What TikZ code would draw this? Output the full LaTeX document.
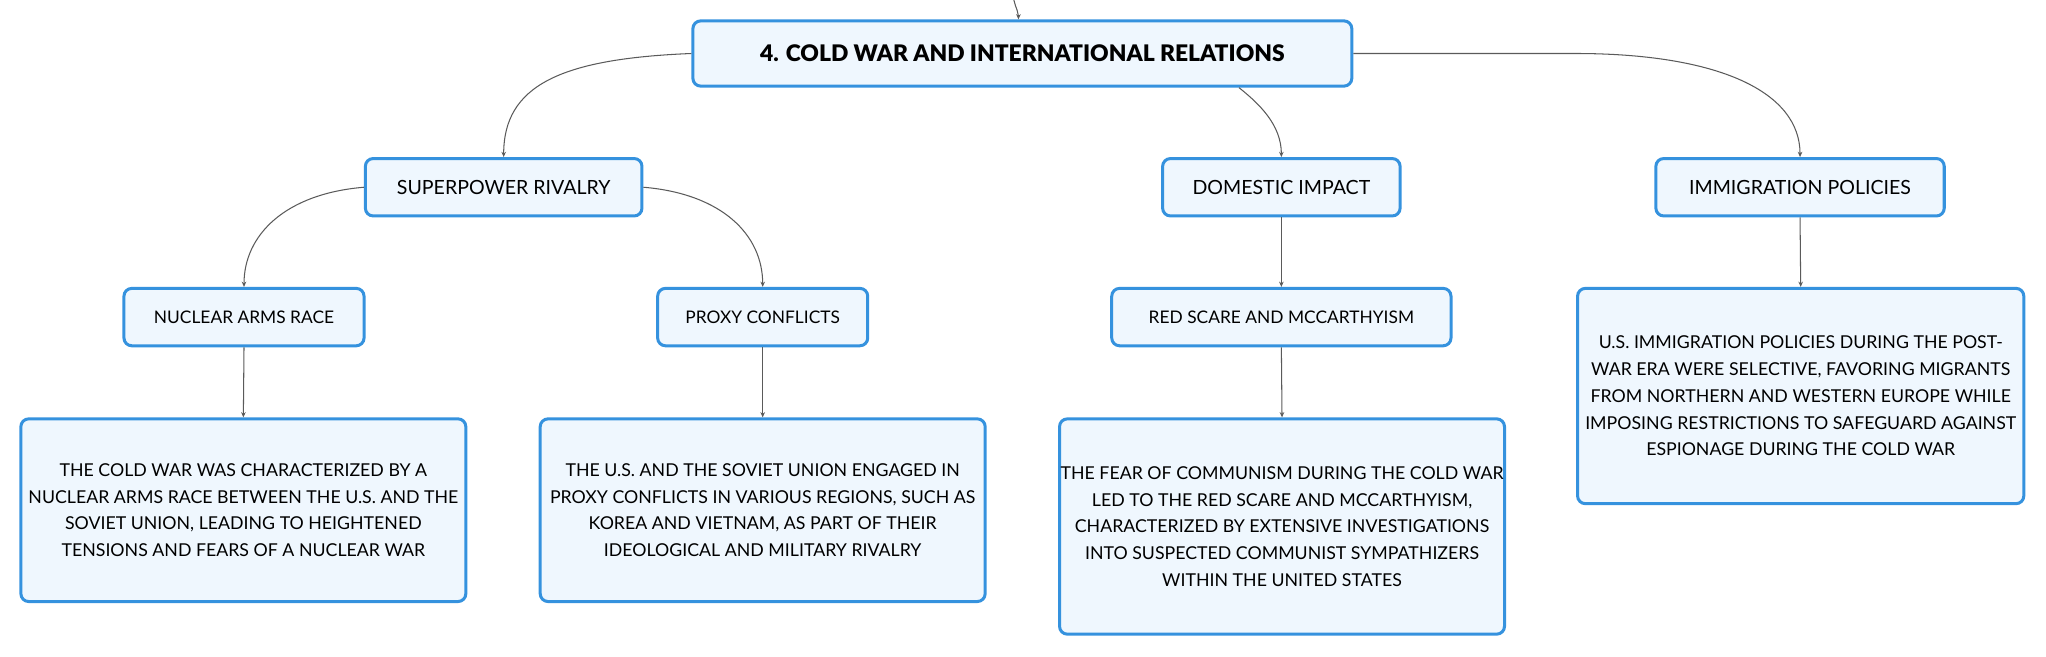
\documentclass[tikz,border=0pt]{standalone}
\usepackage{fontspec}
\setmainfont{Lato}
\newfontfamily\rootfont{Lato Black}
\usetikzlibrary{arrows.meta}
\definecolor{boxblue}{HTML}{3592DE}
\definecolor{boxfill}{HTML}{EFF7FE}
\definecolor{linegray}{HTML}{5A5A5A}
\begin{document}
\begin{tikzpicture}[x=1pt,y=-1pt,
  box/.style={draw=boxblue, fill=boxfill, line width=2.3pt, rounded corners=6pt,
    inner sep=0pt, align=center, font=\fontsize{13.6}{20.5}\selectfont},
  lvlone/.style={box, font=\fontsize{15}{18}\selectfont},
  lvltwo/.style={box, font=\fontsize{13.3}{18}\selectfont},
  rootbox/.style={box, font=\rootfont\fontsize{17.5}{20}\selectfont},
  conn/.style={draw=linegray, line width=0.8pt, -{Stealth[length=4pt,width=3.5pt]}}]
\useasboundingbox (0,0) rectangle (1568,503);

\node[rootbox, minimum width=505pt, minimum height=50pt] (root) at (783.5,41) {4. COLD WAR AND INTERNATIONAL RELATIONS};

\node[lvlone, minimum width=212pt, minimum height=44pt] (sup) at (386,143.5) {SUPERPOWER RIVALRY};
\node[lvlone, minimum width=182pt, minimum height=44pt] (dom) at (982,143.5) {DOMESTIC IMPACT};
\node[lvlone, minimum width=221pt, minimum height=44pt] (imm) at (1379.5,143.5) {IMMIGRATION POLICIES};

\node[lvltwo, minimum width=184pt, minimum height=44pt] (nuc) at (187,243) {NUCLEAR ARMS RACE};
\node[lvltwo, minimum width=161pt, minimum height=44pt] (prx) at (584.5,243) {PROXY CONFLICTS};
\node[lvltwo, minimum width=260pt, minimum height=44pt] (red) at (982,243) {RED SCARE AND MCCARTHYISM};

\node[box, minimum width=341pt, minimum height=140pt] (nuct) at (186.5,391) {THE COLD WAR WAS CHARACTERIZED BY A\\NUCLEAR ARMS RACE BETWEEN THE U.S. AND THE\\SOVIET UNION, LEADING TO HEIGHTENED\\TENSIONS AND FEARS OF A NUCLEAR WAR};
\node[box, minimum width=341pt, minimum height=140pt] (prxt) at (584.5,391) {THE U.S. AND THE SOVIET UNION ENGAGED IN\\PROXY CONFLICTS IN VARIOUS REGIONS, SUCH AS\\KOREA AND VIETNAM, AS PART OF THEIR\\IDEOLOGICAL AND MILITARY RIVALRY};
\node[box, minimum width=341pt, minimum height=165pt] (redt) at (982.5,403.5) {THE FEAR OF COMMUNISM DURING THE COLD WAR\\LED TO THE RED SCARE AND MCCARTHYISM,\\CHARACTERIZED BY EXTENSIVE INVESTIGATIONS\\INTO SUSPECTED COMMUNIST SYMPATHIZERS\\WITHIN THE UNITED STATES};
\node[box, minimum width=342pt, minimum height=165pt] (immt) at (1380,303.5) {U.S. IMMIGRATION POLICIES DURING THE POST-\\WAR ERA WERE SELECTIVE, FAVORING MIGRANTS\\FROM NORTHERN AND WESTERN EUROPE WHILE\\IMPOSING RESTRICTIONS TO SAFEGUARD AGAINST\\ESPIONAGE DURING THE COLD WAR};

\coordinate (in) at (777,0);
\draw[conn] (in) .. controls +(2,8) and +(0,-6) .. ([xshift=-3pt]root.north);

\draw[conn] (root.west) .. controls +(-100,4) and +(0,-55) .. (sup.north);
\draw[conn] ([xshift=166pt]root.south) .. controls +(15,12) and +(0,-25) .. (dom.north);
\draw[conn] (root.east) -- ++(170,0) .. controls +(110,0) and +(0,-50) .. (imm.north);

\draw[conn] (sup.west) .. controls +(-60,5) and +(0,-40) .. (nuc.north);
\draw[conn] (sup.east) .. controls +(60,5) and +(0,-40) .. (prx.north);

\draw[conn] (nuc.south) -- (nuct.north);
\draw[conn] (prx.south) -- (prxt.north);
\draw[conn] (dom.south) -- (red.north);
\draw[conn] (red.south) -- (redt.north);
\draw[conn] (imm.south) -- (immt.north);
\end{tikzpicture}
\end{document}
